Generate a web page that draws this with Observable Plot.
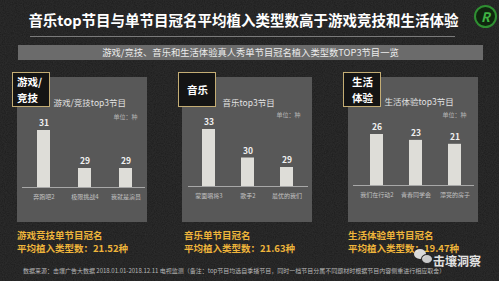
<!DOCTYPE html>
<html><head><meta charset="utf-8">
<script src="https://cdn.jsdelivr.net/npm/d3@7"></script>
<script src="https://cdn.jsdelivr.net/npm/@observablehq/plot@0.6"></script>
<style>
html,body{margin:0;padding:0;}
body{width:499px;height:281px;overflow:hidden;background:#1c1c1c;}
#root{position:relative;width:499px;height:281px;overflow:hidden;font-family:"Noto Sans CJK SC","Noto Sans",sans-serif;
 background-color:#1c1c1c;
 background-image:url("data:image/svg+xml;utf8,<svg xmlns='http://www.w3.org/2000/svg' width='200' height='200'><filter id='n'><feTurbulence type='fractalNoise' baseFrequency='0.9' numOctaves='2' stitchTiles='stitch'/><feColorMatrix values='0 0 0 0 1  0 0 0 0 1  0 0 0 0 1  0 0 0 0.09 0'/></filter><rect width='200' height='200' filter='url(%23n)'/></svg>");}
.abs{position:absolute;}
.title{left:0;width:487px;top:10px;text-align:center;color:#fff;font-weight:bold;font-size:14.5px;line-height:20px;white-space:nowrap;}
.rule{left:30px;width:425px;top:36px;height:1px;background:#7a7a7a;}
.band{left:18px;top:45px;width:465px;height:15px;background:#6b6b6b;color:#ececec;font-size:9.3px;line-height:15px;text-align:center;white-space:nowrap;}
.tag{width:36px;height:33px;background:#141414;border:1px solid #c4ad74;color:#fff;font-weight:bold;box-sizing:content-box;}
.tline{position:absolute;left:0;font-size:10.5px;line-height:11px;white-space:nowrap;}
.avg{color:#efb53b;font-weight:bold;font-size:9.5px;line-height:13px;white-space:nowrap;}
.foot{left:23px;top:266px;color:#b8b8b8;font-size:6px;line-height:10px;white-space:nowrap;}
.wm{left:433px;top:256px;color:#f2f2f2;font-size:12px;line-height:10px;font-weight:bold;opacity:.92;white-space:nowrap;}
.logo{left:474px;top:5px;width:19px;height:19px;border-radius:50%;border:2px solid #2f8f32;background:#10260f;color:#3fb444;font-weight:bold;font-style:italic;font-size:13px;line-height:19px;text-align:center;}
</style></head>
<body><div id="root"></div>
<script>
// ---- data ----
const chartTitle = "音乐top节目与单节目冠名平均植入类型数高于游戏竞技和生活体验";
const chartSubtitle = "游戏/竞技、音乐和生活体验真人秀单节目冠名植入类型数TOP3节目一览";
const genreTags = [["游戏/", "竞技"], ["音乐"], ["生活", "体验"]];
const panelTitles = ["游戏/竞技top3节目", "音乐top3节目", "生活体验top3节目"];
const unitLabel = "单位：种";
const gameShows = ["奔跑吧2", "极限挑战4", "我就是演员"];
const gameValues = [31, 29, 29];
const musicShows = ["蒙面唱将3", "歌手2", "最优的我们"];
const musicValues = [33, 30, 29];
const lifeShows = ["我们在行动2", "青春同学会", "漂亮的房子"];
const lifeValues = [26, 23, 21];
const avgNames = ["游戏竞技单节目冠名", "音乐单节目冠名", "生活体验单节目冠名"];
const avgValues = [21.52, 21.63, 19.47];
const sourceNote = "数据来源：击壤广告大数据 2018.01.01-2018.12.11 电视监测（备注：top节目均选自季播节目，同时一档节目分属不同题材时根据节目内容侧重进行相应取舍）";
const watermark = "击壤洞察";

// ---- layout ----
const FONT = '"Noto Sans CJK SC","Noto Sans",sans-serif';
const root = document.getElementById("root");
function div(cls, css, html, parent) {
  const d = document.createElement("div");
  d.className = "abs " + cls;
  if (css) d.style.cssText += css;
  if (html != null) d.innerHTML = html;
  (parent || root).appendChild(d);
  return d;
}
div("title", "", chartTitle);
div("rule", "");
div("band", "", chartSubtitle);
div("logo", "", "R");

const panels = [
  {shows: gameShows, values: gameValues, left: 17, ml: 5, mr: 2, xr: [6, 129], pi: 0.68, yd: [28, 31], yr: [110, 53], tx: 36, ty: 26, uy: 40, tag: {left: 12, pad: 4}, avgLeft: 17},
  {shows: musicShows, values: musicValues, left: 182, ml: 6, mr: 4, xr: [5.76, 124.26], pi: 0.671, yd: [27, 33], yr: [109, 52], tx: 40, ty: 26, uy: 38, tag: {left: 178, pad: 8}, avgLeft: 184},
  {shows: lifeShows, values: lifeValues, left: 348, ml: 5, mr: 4, xr: [9, 126], pi: 0.667, yd: [0, 26], yr: [108, 57], tx: 36, ty: 25, uy: 38, tag: {left: 343, pad: 8}, avgLeft: 348}
];

panels.forEach((p, i) => {
  const data = p.shows.map((name, j) => ({name, value: p.values[j]}));
  const H = 145;
  const chart = Plot.plot({
    width: 130, height: H,
    marginTop: 0, marginBottom: H - p.yr[0], marginLeft: p.ml, marginRight: p.mr,
    style: {background: "#585858", fontFamily: FONT, fontSize: "6px", color: "#c2c2c2", overflow: "visible"},
    x: {domain: p.shows, range: p.xr, paddingInner: p.pi, paddingOuter: p.pi / 2, tickSize: 0, tickPadding: 7, label: null},
    y: {domain: p.yd, range: p.yr, clamp: true, axis: null},
    marks: [
      Plot.barY(data, {x: "name", y: "value", fill: "#deddd8"}),
      Plot.ruleY([p.yd[0]], {stroke: "#a8a8a8", strokeWidth: 1}),
      Plot.text(data, {x: "name", y: "value", text: d => String(d.value), dy: -7, fill: "#f0f0f0", fontWeight: "bold", fontSize: 8.5}),
      Plot.text([panelTitles[i]], {frameAnchor: "top-left", textAnchor: "start", lineAnchor: "middle", dx: p.tx - p.ml, dy: p.ty, fill: "#e2e2e2", fontSize: 8.5}),
      Plot.text([unitLabel], {frameAnchor: "top-right", textAnchor: "end", lineAnchor: "middle", dx: -8, dy: p.uy, fill: "#b4b4b4", fontSize: 6})
    ]
  });
  const holder = div("", `left:${p.left}px;top:77px;width:130px;height:${H}px;`);
  holder.appendChild(chart);

  const tag = div("tag", `left:${p.tag.left}px;top:72px;`);
  const lines = genreTags[i];
  const lineGap = 15.5;
  const firstCenter = 16.5 - (lines.length - 1) * lineGap / 2;
  lines.forEach((s, k) => {
    div("tline", `left:${p.tag.pad}px;top:${firstCenter + k * lineGap - 5.5}px;`, s, tag);
  });
  div("avg", `left:${p.avgLeft}px;top:228.5px;`, avgNames[i] + "<br>平均植入类型数：" + avgValues[i].toFixed(2) + "种");
});

div("foot", "", sourceNote);
// watermark icon (decorative)
div("", "left:414px;top:249px;width:12px;height:10px;border-radius:50%;background:#eee;opacity:.9;");
div("", "left:421px;top:254px;width:10px;height:8px;border-radius:50%;background:#ddd;opacity:.9;border:1px solid #222;");
div("wm", "", watermark);
</script>
</body></html>
